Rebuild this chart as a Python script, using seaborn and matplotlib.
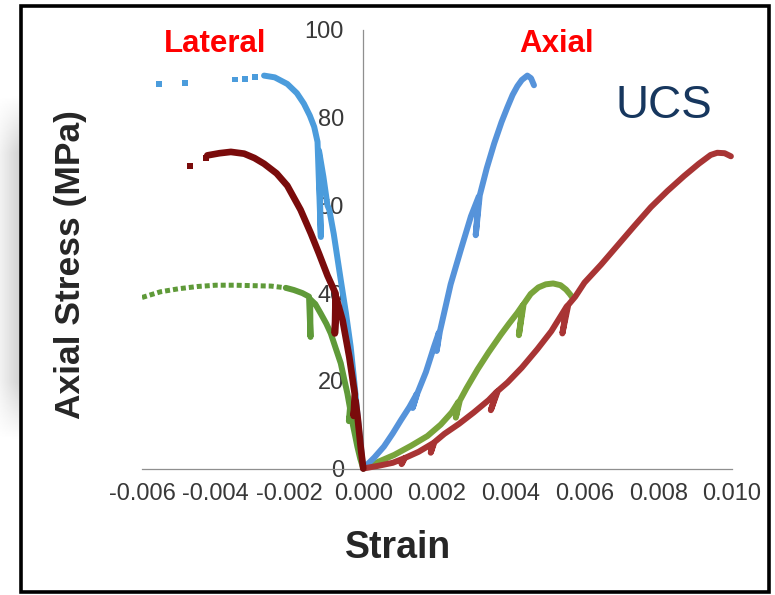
import numpy as np
import pandas as pd
import matplotlib
matplotlib.use("Agg")
import matplotlib.pyplot as plt
import seaborn as sns
from matplotlib import font_manager
from matplotlib.patches import Rectangle

# ---------------- data (strain, axial stress in MPa) ----------------
x_ticks = [-0.006, -0.004, -0.002, 0.000, 0.002, 0.004, 0.006, 0.008, 0.010]
x_tick_labels = ["-0.006", "-0.004", "-0.002", "0.000", "0.002", "0.004", "0.006", "0.008", "0.010"]
y_ticks = [0, 20, 40, 60, 80, 100]
y_tick_labels = ["0", "20", "40", "60", "80", "100"]

# sample 1 (blue)
blue_lat_dots_x = [-0.00554, -0.00484, -0.00348, -0.00321, -0.00293]
blue_lat_dots_y = [87.6, 88.0, 88.7, 88.9, 89.2]
blue_lat_x = [-0.00269, -0.00240, -0.00206, -0.00180, -0.00161, -0.00145, -0.00133, -0.00124,
              -0.00115, -0.00120, -0.00116, -0.00108, -0.00097, -0.00092, -0.00080, -0.00061,
              -0.00047, -0.00034, -0.00025, -0.00016, -0.00008, 0.0]
blue_lat_y = [89.6, 89.2, 87.7, 85.6, 83.2, 80.5, 77.9, 74.5,
              52.8, 72.5, 70.5, 66.5, 60.0, 59.0, 53.5, 43.0,
              35.5, 27.7, 20.3, 12.6, 6.0, 0.0]
blue_ax_x = [0.0, 0.00030, 0.00056, 0.00080, 0.00102, 0.00125, 0.00145, 0.00134, 0.00147, 0.00170,
             0.00192, 0.00205, 0.00199, 0.00208, 0.00237, 0.00265, 0.00292, 0.00313, 0.00305, 0.00316,
             0.00335, 0.00355, 0.00375, 0.00391, 0.00405, 0.00418, 0.00430, 0.00445, 0.00455, 0.00459,
             0.00463]
blue_ax_y = [0.0, 2.5, 5.0, 8.0, 11.0, 14.0, 17.0, 13.8, 17.2, 22.0,
             27.8, 31.0, 26.8, 31.3, 42.0, 50.0, 57.5, 62.0, 53.2, 62.3,
             68.5, 74.1, 79.0, 82.4, 85.2, 87.2, 88.6, 89.6, 89.0, 88.2,
             87.4]

# sample 2 (red)
red_lat_dots_x = [-0.00471, -0.00427]
red_lat_dots_y = [69.0, 70.9]
red_lat_x = [-0.00423, -0.00390, -0.00359, -0.00323, -0.00295, -0.00269, -0.00235, -0.00206,
             -0.00170, -0.00142, -0.00120, -0.00097, -0.00075, -0.00077, -0.00073, -0.00056,
             -0.00038, -0.00023, -0.00026, -0.00021, -0.00015, -0.00007, 0.0]
red_lat_y = [71.4, 71.9, 72.2, 71.8, 70.8, 69.5, 67.3, 64.5,
             59.0, 53.6, 49.0, 44.0, 39.9, 30.8, 39.0, 33.8,
             25.5, 17.0, 12.0, 15.5, 11.5, 5.0, 0.0]
red_ax_x = [0.0, 0.00040, 0.00080, 0.00110, 0.00104, 0.00113, 0.00150, 0.00190, 0.00183, 0.00193,
            0.00220, 0.00260, 0.00300, 0.00340, 0.00362, 0.00346, 0.00365, 0.00391, 0.00430, 0.00472,
            0.00510, 0.00552, 0.00540, 0.00556, 0.00575, 0.00600, 0.00645, 0.00689, 0.00735, 0.00780,
            0.00825, 0.00870, 0.00910, 0.00942, 0.00960, 0.00980, 0.00997]
red_ax_y = [0.0, 0.6, 1.3, 2.3, 1.0, 2.4, 3.8, 5.8, 3.6, 6.0,
            7.9, 10.2, 12.8, 15.6, 17.5, 13.3, 17.7, 19.6, 23.0, 27.2,
            31.3, 37.0, 30.8, 37.3, 39.2, 42.4, 46.5, 50.8, 55.3, 59.6,
            63.3, 66.7, 69.5, 71.5, 72.0, 71.9, 71.2]

# sample 3 (green)
green_lat_dots_x = [-0.00600, -0.00550, -0.00500, -0.00450, -0.00400, -0.00350, -0.00300, -0.00250, -0.00210]
green_lat_dots_y = [39.0, 40.3, 41.0, 41.5, 41.8, 41.8, 41.7, 41.6, 41.2]
green_lat_x = [-0.00210, -0.00188, -0.00165, -0.00147, -0.00143, -0.00144, -0.00130, -0.00115,
               -0.00100, -0.00088, -0.00075, -0.00061, -0.00052, -0.00043, -0.00036, -0.00039,
               -0.00034, -0.00029, -0.00022, -0.00016, -0.00008, 0.0]
green_lat_y = [41.2, 40.7, 40.0, 39.2, 30.0, 38.6, 37.5, 35.3,
               33.0, 30.8, 27.5, 24.0, 20.5, 17.1, 13.8, 10.8,
               13.0, 10.3, 7.5, 5.0, 2.2, 0.0]
green_ax_x = [0.0, 0.00040, 0.00084, 0.00130, 0.00174, 0.00210, 0.00240, 0.00258, 0.00251, 0.00262,
              0.00280, 0.00310, 0.00340, 0.00373, 0.00395, 0.00418, 0.00432, 0.00422, 0.00435, 0.00454,
              0.00475, 0.00495, 0.00515, 0.00535, 0.00550, 0.00560, 0.00567]
green_ax_y = [0.0, 1.5, 3.1, 5.2, 7.4, 10.0, 12.8, 15.2, 11.6, 15.5,
              18.3, 22.6, 26.5, 30.5, 33.0, 35.5, 37.2, 30.4, 37.5, 39.8,
              41.3, 42.0, 42.2, 41.8, 40.8, 39.8, 39.0]

# ---------------- styling ----------------
sns.set_style("white")
names = {f.name for f in font_manager.fontManager.ttflist}
narrow = "Liberation Sans Narrow" in names
plt.rcParams["font.family"] = ["Liberation Sans", "DejaVu Sans"]
cond_family = ["Liberation Sans Narrow", "Liberation Sans", "DejaVu Sans"] if narrow else ["Liberation Sans", "DejaVu Sans"]

W, H = 775, 595
fig = plt.figure(figsize=(W / 100, H / 100), dpi=100)
fig.patch.set_facecolor("white")
ax = fig.add_axes([142 / W, 1 - 468.5 / H, 590 / W, 438.5 / H])

C_BLUE_LAT = "#4b9cdc"
C_BLUE_AX = "#5693da"
C_RED_LAT = "#7a0b0b"
C_RED_AX = "#a83434"
C_GREEN_LAT = "#5f9a39"
C_GREEN_AX = "#79a43b"
LW = 4.3


def curve(xs, ys, color, z, lw=LW, **kw):
    df = pd.DataFrame({"strain": xs, "stress": ys})
    sns.lineplot(data=df, x="strain", y="stress", sort=False, estimator=None, errorbar=None,
                 color=color, lw=lw, ax=ax, zorder=z, clip_on=False,
                 solid_joinstyle="round", solid_capstyle="round", **kw)


def dots(xs, ys, color, z):
    df = pd.DataFrame({"strain": xs, "stress": ys})
    sns.scatterplot(data=df, x="strain", y="stress", marker="s", s=18, color=color,
                    edgecolor="none", linewidth=0, ax=ax, zorder=z)


# axial curves
curve(green_ax_x, green_ax_y, C_GREEN_AX, 3)
curve(blue_ax_x, blue_ax_y, C_BLUE_AX, 4)
curve(red_ax_x, red_ax_y, C_RED_AX, 5)
# lateral curves
dots(blue_lat_dots_x, blue_lat_dots_y, C_BLUE_LAT, 3)
curve(blue_lat_x, blue_lat_y, C_BLUE_LAT, 3)
df_gd = pd.DataFrame({"strain": green_lat_dots_x, "stress": green_lat_dots_y})
sns.lineplot(data=df_gd, x="strain", y="stress", sort=False, estimator=None, errorbar=None,
             color=C_GREEN_LAT, lw=3.6, ax=ax, zorder=4, linestyle=(0, (1.0, 0.6)))
curve(green_lat_x, green_lat_y, C_GREEN_LAT, 4)
dots(red_lat_dots_x, red_lat_dots_y, C_RED_LAT, 5)
curve(red_lat_x, red_lat_y, C_RED_LAT, 5, lw=4.8)

ax.set_xlim(-0.006, 0.010)
ax.set_ylim(0, 100)
ax.spines["left"].set_position(("data", 0))
ax.spines["top"].set_visible(False)
ax.spines["right"].set_visible(False)
for s in ["left", "bottom"]:
    ax.spines[s].set_color("#8f8f8f")
    ax.spines[s].set_linewidth(0.9)
    ax.spines[s].set_zorder(1)

tick_size = 20 if narrow else 17
ax.set_xticks(x_ticks)
ax.set_xticklabels(x_tick_labels, family=cond_family, fontsize=tick_size)
ax.set_yticks(y_ticks)
ax.set_yticklabels(y_tick_labels, family=cond_family, fontsize=tick_size)
ax.tick_params(axis="both", direction="out", length=5, width=0.9, color="#8f8f8f", labelcolor="#383838")
ax.tick_params(axis="x", pad=5.5)
ax.tick_params(axis="y", pad=9)

ax.set_xlabel("Strain", fontsize=27, fontweight="bold", family=["Liberation Sans", "DejaVu Sans"])
ax.xaxis.set_label_coords(398 / W, 1 - 558 / H, transform=fig.transFigure)
ax.xaxis.label.set_va("baseline")
ax.set_ylabel("Axial Stress (MPa)", fontsize=(30 if narrow else 25.5), fontweight="bold", family=cond_family)
ax.yaxis.set_label_coords(71 / W, 1 - 265 / H, transform=fig.transFigure)
ax.yaxis.label.set_va("center")

fig.text(215 / W, 1 - 52 / H, "Lateral", color="#ff0000", fontsize=22.5, fontweight="bold",
         ha="center", va="baseline")
fig.text(556.5 / W, 1 - 52 / H, "Axial", color="#ff0000", fontsize=22.5, fontweight="bold",
         ha="center", va="baseline")
fig.text(664 / W, 1 - 118 / H, "UCS", color="#17375e", fontsize=33, ha="center", va="baseline")

# soft grey shadow at the left edge and black frame
sh = fig.add_axes([0, 1 - 440 / H, 19 / W, 345 / H])
hx = np.linspace(0.3, 1.0, 20)[None, :]
vy = np.clip(np.minimum(np.linspace(0, 1, 200), np.linspace(1, 0, 200)) * 6, 0, 1)[:, None]
sh.imshow(1 - 0.17 * hx * vy, cmap="gray", vmin=0, vmax=1, aspect="auto", interpolation="bilinear")
sh.axis("off")

fig.patches.append(Rectangle((21 / W, 1 - 592 / H), (769 - 21) / W, (592 - 6) / H,
                             transform=fig.transFigure, fill=False, ec="black", lw=2.6, zorder=10))

fig.savefig("out.png", dpi=100)
